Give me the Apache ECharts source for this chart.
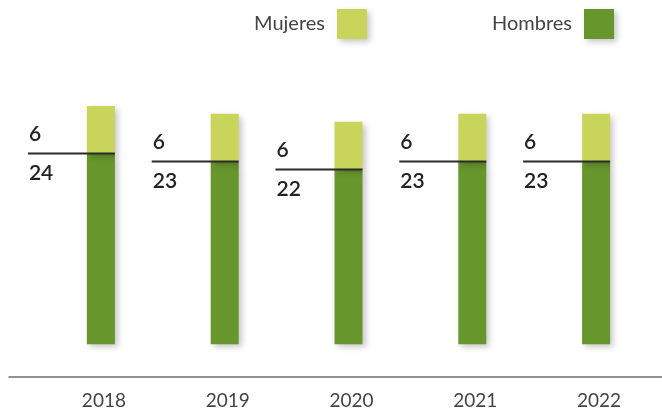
<!DOCTYPE html>
<html>
<head>
<meta charset="utf-8">
<script src="https://cdn.jsdelivr.net/npm/echarts@6/dist/echarts.min.js"></script>
<style>
  html, body { margin: 0; padding: 0; background: #fff; }
  #chart { width: 662px; height: 410px; }
</style>
</head>
<body>
<div id="chart"></div>
<script>
const years = ['2018', '2019', '2020', '2021', '2022'];
const hombres = [24, 23, 22, 23, 23];
const mujeres = [6, 6, 6, 6, 6];

const colorMujeres = '#c9d45b';
const colorHombres = '#67962d';

const chart = echarts.init(document.getElementById('chart'));

const barShadow = {
  shadowBlur: 6,
  shadowOffsetX: 3,
  shadowOffsetY: 3,
  shadowColor: 'rgba(0,0,0,0.22)'
};

const option = {
  animation: false,
  textStyle: { fontFamily: 'Lato' },
  legend: [
    {
      data: ['Mujeres'],
      top: 9,
      right: 295,
      padding: 0,
      icon: 'rect',
      itemWidth: 30,
      itemHeight: 30,
      align: 'right',
      selectedMode: false,
      itemStyle: barShadow,
      textStyle: { fontSize: 20, color: '#444', padding: [0, 7, 0, 0] }
    },
    {
      data: ['Hombres'],
      top: 9,
      right: 48,
      padding: 0,
      icon: 'rect',
      itemWidth: 30,
      itemHeight: 30,
      align: 'right',
      selectedMode: false,
      itemStyle: barShadow,
      textStyle: { fontSize: 20, color: '#444', padding: [0, 7, 0, 0] }
    }
  ],
  grid: [
    { left: 39, right: 4, top: 90, bottom: 33 },
    { left: 9, right: 0, top: 90, bottom: 33 }
  ],
  xAxis: [
    {
      type: 'category',
      gridIndex: 0,
      data: years,
      axisLine: { show: false },
      axisTick: { show: false },
      axisLabel: { fontSize: 19, color: '#444', margin: 15, padding: [0, 0, 0, 6] }
    },
    {
      type: 'value',
      gridIndex: 1,
      axisLine: { show: true, onZero: false, lineStyle: { color: '#6f6f6f', width: 1.5 } },
      axisTick: { show: false },
      axisLabel: { show: false },
      splitLine: { show: false }
    }
  ],
  yAxis: [
    { type: 'value', gridIndex: 0, min: -4, max: 32, show: false },
    { type: 'value', gridIndex: 1, min: 0, max: 1, show: false }
  ],
  series: [
    {
      name: 'Hombres',
      type: 'bar',
      stack: 'total',
      barWidth: 28,
      data: hombres,
      itemStyle: Object.assign({ color: colorHombres }, barShadow)
    },
    {
      name: 'Mujeres',
      type: 'bar',
      stack: 'total',
      barWidth: 28,
      data: mujeres,
      itemStyle: Object.assign({ color: colorMujeres }, barShadow)
    },
    {
      type: 'custom',
      z: 10,
      data: hombres.map((v, i) => [i, v]),
      encode: { x: 0, y: 1 },
      renderItem: function (params, api) {
        const i = params.dataIndex;
        const p = api.coord([i, hombres[i]]);
        return {
          type: 'group',
          children: [
            {
              type: 'line',
              shape: { x1: p[0] - 73, y1: p[1], x2: p[0] + 14, y2: p[1] },
              style: { stroke: '#2b2b2b', lineWidth: 2 }
            },
            {
              type: 'text',
              style: {
                x: p[0] - 72, y: p[1] - 19,
                text: String(mujeres[i]),
                font: '600 21px Lato',
                fill: '#222',
                textVerticalAlign: 'middle'
              }
            },
            {
              type: 'text',
              style: {
                x: p[0] - 72, y: p[1] + 20,
                text: String(hombres[i]),
                font: '600 21px Lato',
                fill: '#222',
                textVerticalAlign: 'middle'
              }
            }
          ]
        };
      }
    }
  ]
};

chart.setOption(option);
</script>
</body>
</html>
